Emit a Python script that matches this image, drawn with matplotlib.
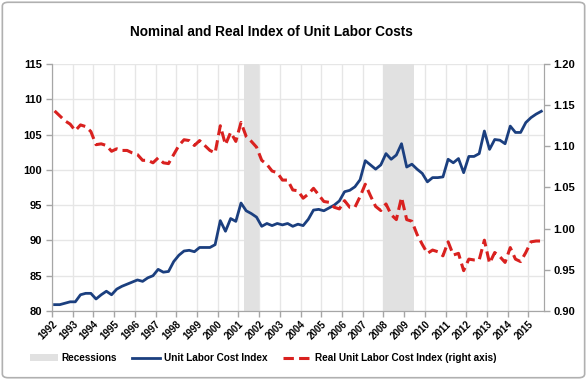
import numpy as np
import matplotlib.pyplot as plt
from matplotlib.patches import Patch, FancyBboxPatch
from matplotlib.lines import Line2D

plt.rcParams['font.family'] = ['Liberation Sans', 'DejaVu Sans']

# quarterly data, 1992 Q1 .. 2015 Q3
ulc = [80.9, 80.9, 81.1, 81.3,   81.3, 82.3, 82.5, 82.5,
       81.7, 82.3, 82.8, 82.3,   83.1, 83.5, 83.8, 84.1,
       84.4, 84.2, 84.7, 85.0,   85.9, 85.5, 85.6, 87.0,
       87.9, 88.5, 88.6, 88.4,   89.0, 89.0, 89.0, 89.4,
       92.8, 91.3, 93.1, 92.7,   95.3, 94.2, 93.8, 93.3,
       92.0, 92.4, 92.1, 92.4,   92.2, 92.4, 92.0, 92.3,
       92.1, 93.0, 94.3, 94.4,   94.2, 94.6, 95.0, 95.6,
       96.9, 97.1, 97.6, 98.6,   101.3, 100.7, 100.1, 100.7,
       102.3, 101.5, 102.1, 103.7, 100.4, 100.8, 100.1, 99.5,
       98.3, 98.9, 98.9, 99.0,   101.5, 101.0, 101.6, 99.6,
       101.9, 101.9, 102.3, 105.5, 102.9, 104.3, 104.2, 103.7,
       106.2, 105.3, 105.3, 106.7, 107.4, 107.9, 108.3]

real_ulc = [1.143, 1.137, 1.131, 1.127,  1.119, 1.126, 1.124, 1.118,
            1.102, 1.103, 1.101, 1.094,  1.097, 1.095, 1.095, 1.092,
            1.090, 1.083, 1.083, 1.080,  1.086, 1.080, 1.079, 1.090,
            1.101, 1.108, 1.107, 1.101,  1.107, 1.101, 1.095, 1.092,
            1.125, 1.102, 1.117, 1.106,  1.129, 1.112, 1.106, 1.099,
            1.083, 1.078, 1.070, 1.068,  1.059, 1.059, 1.047, 1.046,
            1.037, 1.042, 1.049, 1.041,  1.033, 1.032, 1.026, 1.024,
            1.034, 1.026, 1.026, 1.039,  1.054, 1.040, 1.027, 1.022,
            1.030, 1.017, 1.011, 1.038,  1.011, 1.009, 0.993, 0.981,
            0.970, 0.974, 0.972, 0.967,  0.984, 0.968, 0.970, 0.949,
            0.963, 0.962, 0.962, 0.986,  0.958, 0.971, 0.966, 0.959,
            0.977, 0.963, 0.960, 0.971,  0.984, 0.985, 0.985]

recessions = [(2001.25, 2002.0), (2008.0, 2009.5)]
years = list(range(1992, 2016))

t = 1992 + (np.arange(len(ulc)) + 0.5) / 4

blue = '#1b3f7f'
red = '#d9211f'
grey = '#e1e1e1'

fig = plt.figure(figsize=(5.87, 3.80), dpi=100)
ax = fig.add_axes([0.0886, 0.1816, 0.838, 0.650])
ax2 = ax.twinx()

for a, b in recessions:
    ax.axvspan(a, b, color=grey, zorder=1, lw=0)

ax.plot(t, ulc, color=blue, lw=2.0, zorder=3)
ax2.plot(t, real_ulc, color=red, lw=2.2, dashes=(3.4, 1.7))

ax.set_xlim(1992, 2015.75)
ax.set_ylim(80, 115)
ax.set_yticks(np.arange(80, 116, 5))
ax2.set_ylim(0.90, 1.20)
ax2.set_yticks(np.arange(0.90, 1.201, 0.05))
ax2.set_yticklabels(['%.2f' % v for v in np.arange(0.90, 1.201, 0.05)])
ax.set_xticks(years)
ax.set_xticklabels([str(y) for y in years], rotation=45, ha='right',
                   rotation_mode='anchor')

ax.grid(True, color='#e6e6e6', lw=1.0, zorder=0)
ax.set_axisbelow(True)

for a in (ax, ax2):
    a.spines['top'].set_visible(False)
    for s in ('left', 'right', 'bottom'):
        a.spines[s].set_color('#a6a6a6')
    a.tick_params(colors='#a6a6a6', length=4, width=1)
ax.tick_params(axis='x', labelsize=7, labelcolor='black', pad=2)
ax.tick_params(axis='y', labelsize=8, labelcolor='black', pad=3)
ax2.tick_params(axis='y', labelsize=8, labelcolor='black', pad=3)
for lab in ax.get_xticklabels() + ax.get_yticklabels() + ax2.get_yticklabels():
    lab.set_fontweight('bold')

fig.text(0.462, 0.916, 'Nominal and Real Index of Unit Labor Costs',
         ha='center', va='center', fontsize=9.8, fontweight='bold')

handles = [Patch(facecolor=grey, edgecolor='none'),
           Line2D([], [], color=blue, lw=2.0),
           Line2D([], [], color=red, lw=2.2, dashes=(3.4, 1.7))]
labels = ['Recessions', 'Unit Labor Cost Index', 'Real Unit Labor Cost Index (right axis)']
fig.legend(handles, labels, loc='center', bbox_to_anchor=(0.448, 0.058), ncol=3,
           frameon=False, prop={'size': 7.2, 'weight': 'bold'},
           handlelength=2.8, handleheight=0.6, handletextpad=0.4, columnspacing=1.5)

fig.patches.append(FancyBboxPatch((0.004, 0.006), 0.992, 0.988,
                                  boxstyle='round,pad=0,rounding_size=0.01',
                                  transform=fig.transFigure, fill=False,
                                  edgecolor='#b0b0b0', lw=1.2))

fig.savefig('out.png', dpi=100)
